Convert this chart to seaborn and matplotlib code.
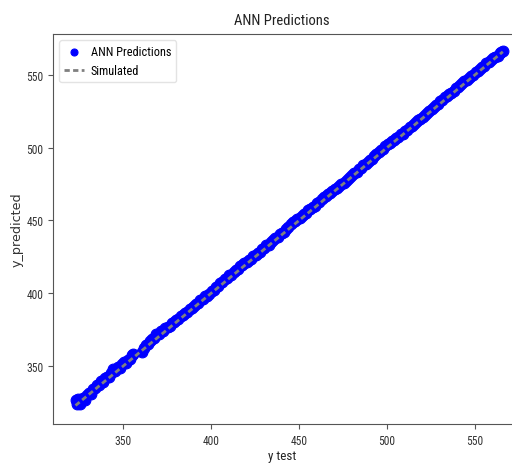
import matplotlib
matplotlib.use("Agg")
import matplotlib.pyplot as plt
from matplotlib.lines import Line2D
import seaborn as sns
import pandas as pd

# values (two runs, gap near 357)
test_low = [323.0, 323.8, 324.6, 325.3, 326.1, 327.0, 328.2, 329.4, 330.5, 331.7,
            332.9, 334.0, 335.2, 336.4, 337.5, 338.7, 339.9, 341.0, 342.2, 343.4,
            344.5, 345.7, 346.9, 348.0, 349.2, 350.4, 351.5, 352.7, 353.9, 355.0,
            355.9]
pred_low = [326.5, 324.2, 327.8, 323.9, 326.6, 328.4, 327.1, 330.2, 331.8, 331.0,
            334.6, 334.9, 336.8, 337.1, 339.5, 338.8, 341.7, 342.9, 342.6, 345.1,
            347.8, 346.9, 349.4, 349.0, 351.3, 352.6, 352.0, 354.4, 355.1, 357.9,
            358.4]

test_high = [
    360.6, 361.7, 362.9, 364.1, 365.3, 366.6, 367.8, 369.0, 370.3, 371.5,
    372.8, 374.0, 375.3, 376.5, 377.8, 379.0, 380.3, 381.5, 382.8, 384.0,
    385.3, 386.5, 387.8, 389.0, 390.3, 391.5, 392.8, 394.0, 395.3, 396.5,
    397.8, 399.0, 400.3, 401.5, 402.8, 404.0, 405.3, 406.5, 407.8, 409.0,
    410.3, 411.5, 412.8, 414.0, 415.3, 416.5, 417.8, 419.0, 420.3, 421.5,
    422.8, 424.0, 425.3, 426.5, 427.8, 429.0, 430.3, 431.5, 432.8, 434.0,
    435.3, 436.5, 437.8, 439.0, 440.3, 441.5, 442.8, 444.0, 445.3, 446.5,
    447.8, 449.0, 450.3, 451.5, 452.8, 454.0, 455.3, 456.5, 457.8, 459.0,
    460.3, 461.5, 462.8, 464.0, 465.3, 466.5, 467.8, 469.0, 470.3, 471.5,
    472.8, 474.0, 475.3, 476.5, 477.8, 479.0, 480.3, 481.5, 482.8, 484.0,
    485.3, 486.5, 487.8, 489.0, 490.3, 491.5, 492.8, 494.0, 495.3, 496.5,
    497.8, 499.0, 500.3, 501.5, 502.8, 504.0, 505.3, 506.5, 507.8, 509.0,
    510.3, 511.5, 512.8, 514.0, 515.3, 516.5, 517.8, 519.0, 520.3, 521.5,
    522.8, 524.0, 525.3, 526.5, 527.8, 529.0, 530.3, 531.5, 532.8, 534.0,
    535.3, 536.5, 537.8, 539.0, 540.3, 541.5, 542.8, 544.0, 545.3, 546.5,
    547.8, 549.0, 550.3, 551.5, 552.8, 554.0, 555.3, 556.5, 557.8, 559.0,
    560.3, 561.5, 562.8, 564.0, 565.0, 565.8,
]
pred_high = [
    359.9, 362.8, 364.5, 364.9, 367.4, 368.9, 369.3, 371.8, 372.4, 373.9,
    374.2, 376.1, 376.6, 377.9, 379.6, 380.1, 381.9, 382.6, 384.5, 384.9,
    386.8, 387.2, 389.4, 389.8, 391.1, 392.9, 393.4, 395.6, 396.1, 397.9,
    398.3, 399.7, 401.9, 402.4, 404.6, 405.2, 407.4, 408.1, 409.8, 410.3,
    412.4, 412.9, 414.7, 415.8, 416.9, 418.6, 419.1, 420.9, 421.6, 423.2,
    423.7, 425.3, 426.4, 427.9, 428.6, 430.4, 431.2, 432.9, 433.5, 435.1,
    436.4, 437.8, 438.9, 440.6, 441.7, 442.4, 444.3, 445.8, 447.6, 448.9,
    449.3, 450.8, 451.6, 453.2, 454.4, 455.1, 456.9, 457.6, 459.3, 460.1,
    461.8, 462.9, 464.6, 466.2, 466.8, 468.0, 469.1, 470.2, 471.4, 472.6,
    473.5, 475.2, 476.0, 477.3, 478.6, 479.9, 481.2, 482.7, 483.6, 485.4,
    486.1, 487.9, 488.6, 490.3, 491.8, 492.4, 494.5, 495.3, 497.2, 498.6,
    499.4, 501.1, 502.7, 503.2, 504.6, 505.3, 506.8, 507.4, 509.1, 509.7,
    511.6, 512.2, 514.0, 515.1, 516.3, 517.4, 518.9, 519.8, 521.3, 522.4,
    524.1, 524.9, 526.6, 527.8, 529.4, 530.1, 531.9, 532.8, 534.5, 535.2,
    536.7, 537.4, 539.1, 540.6, 541.4, 542.9, 544.3, 545.7, 546.4, 547.9,
    549.2, 549.8, 551.6, 552.9, 553.8, 555.4, 556.1, 557.9, 558.6, 560.0,
    561.2, 562.4, 563.1, 564.9, 565.7, 566.3,
]

ticks = [350, 400, 450, 500, 550]

df = pd.DataFrame({"y_test": test_low + test_high, "y_pred": pred_low + pred_high})

cond = ["Roboto Condensed", "DejaVu Sans"]

fig = plt.figure(figsize=(5.12, 4.64), dpi=100)
ax = fig.add_axes([53 / 512, 39 / 464, 458 / 512, 390 / 464])

sns.scatterplot(data=df, x="y_test", y="y_pred", color="blue", edgecolor="blue",
                s=60, linewidth=0.8, label="ANN Predictions", ax=ax, zorder=2)
sns.lineplot(x=df["y_test"], y=df["y_test"], color="#808080", linewidth=2,
             label="Simulated", ax=ax, zorder=3, sort=True)
ax.lines[0].set_dashes((1.9, 1.2))

ax.set_xlim(310.2, 570.45)
ax.set_ylim(310.3, 578)
ax.set_xticks(ticks)
ax.set_yticks(ticks)

for lab in ax.get_xticklabels() + ax.get_yticklabels():
    lab.set_family(cond)
    lab.set_fontsize(8.3)
    lab.set_color("#333333")
ax.tick_params(length=3.5, color="#555555")
for sp in ax.spines.values():
    sp.set_color("#555555")
ax.spines["right"].set_visible(False)

ax.set_title("ANN Predictions", family=cond, fontsize=10.5, color="#222222", pad=7)
ax.set_xlabel("y test", family=cond, fontsize=9.4, color="#222222", labelpad=2)
ax.set_ylabel("y_predicted", family="DejaVu Sans", fontsize=9.2, color="#333333", labelpad=2)

leg = ax.legend(loc="upper left", prop={"family": cond, "size": 8.8},
                handlelength=1.6, handletextpad=0.6, markerscale=0.65)
leg.get_frame().set_edgecolor("#dddddd")
for h in leg.legend_handles:
    if isinstance(h, Line2D):
        h.set_dashes((1.9, 1.2))

fig.savefig("out.png", dpi=100)
